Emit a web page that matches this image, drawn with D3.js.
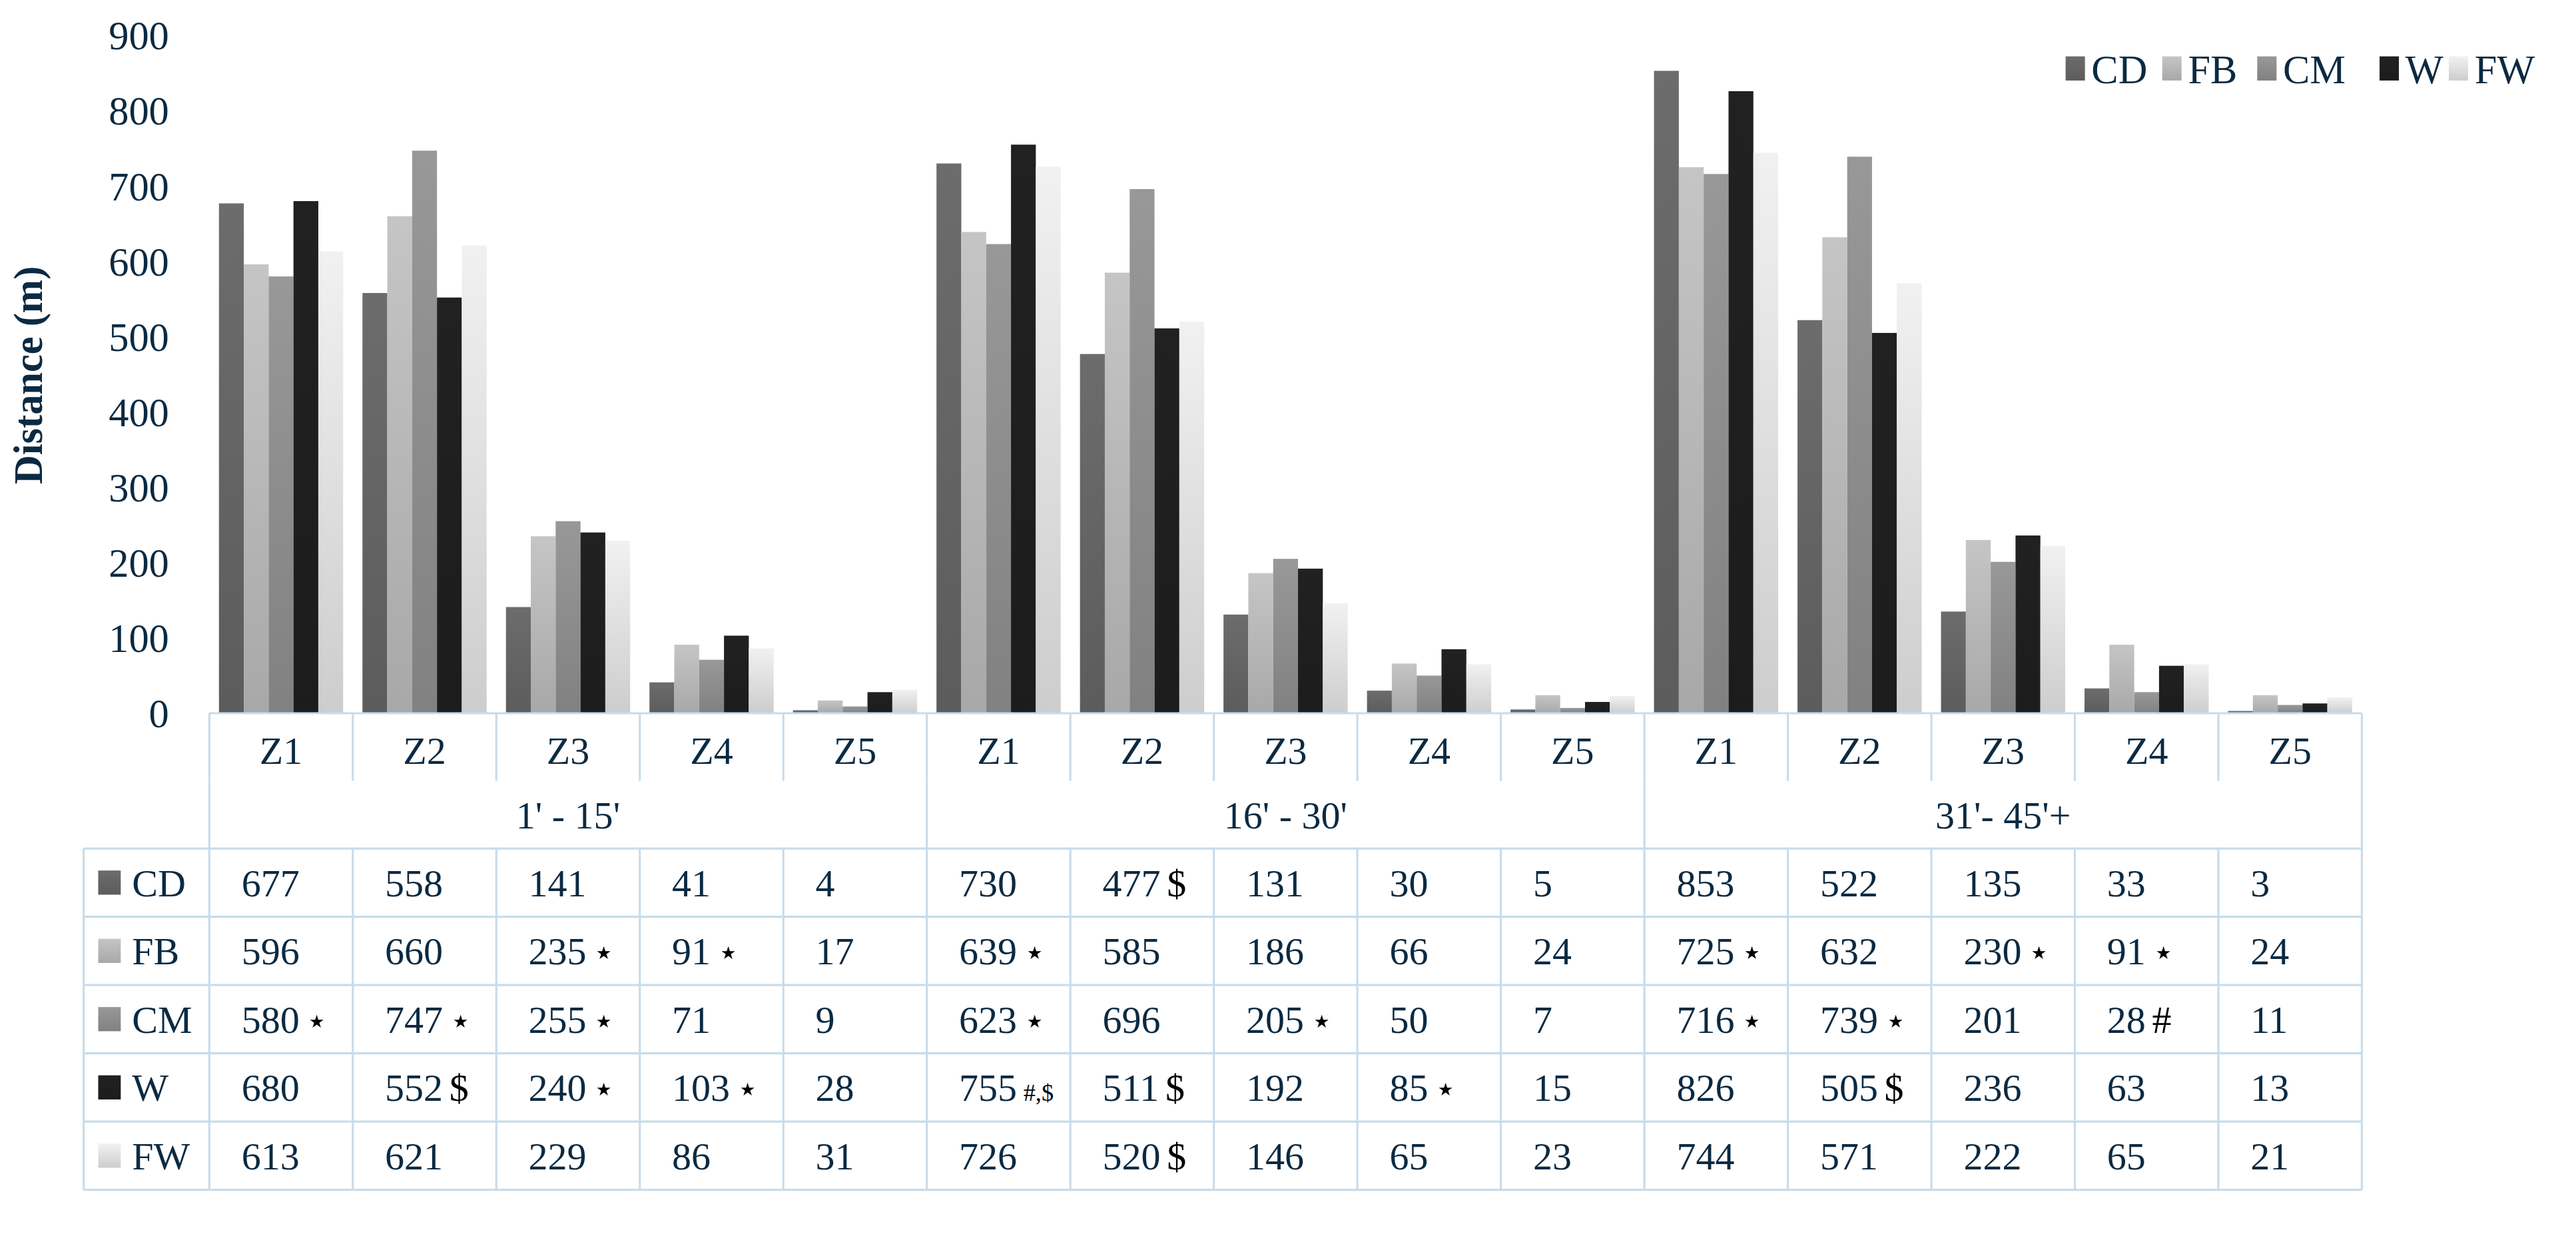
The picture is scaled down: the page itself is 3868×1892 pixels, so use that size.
<!DOCTYPE html>
<html><head><meta charset="utf-8">
<script src="https://cdn.jsdelivr.net/npm/d3@7"></script>
<style>body{margin:0;background:#fff}</style></head>
<body><svg id="c" width="3868" height="1892" viewBox="0 0 1600 782.6"></svg>
<script>
const groups = ["1' - 15'", "16' - 30'", "31'- 45'+"];
const zones = ["Z1","Z2","Z3","Z4","Z5"];
const series = ["CD","FB","CM","W","FW"];
const colors = {CD:"#636363",FB:"#b4b4b4",CM:"#8b8b8b",W:"#1e1e1e",FW:"#dcdcdc"};
const CD = [677,558,141,41,4, 730,477,131,30,5, 853,522,135,33,3];
const FB = [596,660,235,91,17, 639,585,186,66,24, 725,632,230,91,24];
const CM = [580,747,255,71,9, 623,696,205,50,7, 716,739,201,28,11];
const W  = [680,552,240,103,28, 755,511,192,85,15, 826,505,236,63,13];
const FW = [613,621,229,86,31, 726,520,146,65,23, 744,571,222,65,21];
const marksCD = ["","","","","", "","$","","","", "","","","",""];
const marksFB = ["","","⋆","⋆","", "⋆","","","","", "⋆","","⋆","⋆",""];
const marksCM = ["⋆","⋆","⋆","","", "⋆","","⋆","","", "⋆","⋆","","#",""];
const marksW  = ["","$","⋆","⋆","", "#,$","$","","⋆","", "","$","","",""];
const marksFW = ["","","","","", "","$","","","", "","","","",""];
const yTicks = [0,100,200,300,400,500,600,700,800,900];
const vals = {CD,FB,CM,W,FW};
const marks = {CD:marksCD,FB:marksFB,CM:marksCM,W:marksW,FW:marksFW};

const svg = d3.select("#c");
const font = "'Liberation Serif','DejaVu Serif',serif";
const txt = "#0b2a42", grid = "#c8dcea";
const x0 = 130, x1 = 1467, yTop = 22, yBase = 443;
const cols = d3.range(15);
const x = d3.scaleBand().domain(cols).range([x0,x1]);
const xs = d3.scaleBand().domain(series).range([6, x.bandwidth()-6]).paddingInner(0);
const y = d3.scaleLinear().domain([0,900]).range([yBase,yTop]);

const defs = svg.append("defs");
series.forEach(s=>{
  const c = d3.color(colors[s]);
  const g = defs.append("linearGradient").attr("id","g"+s).attr("x1",0).attr("x2",0).attr("y1",0).attr("y2",1);
  g.append("stop").attr("offset","0%").attr("stop-color",c.brighter(0.25));
  g.append("stop").attr("offset","100%").attr("stop-color",c.darker(0.2));
});

// y tick labels
svg.append("g").selectAll("text").data(yTicks).join("text")
  .attr("x",105).attr("y",d=>y(d)).attr("dy","0.35em").attr("text-anchor","end")
  .attr("font-family",font).attr("font-size",25).attr("fill",txt).text(d=>d);
svg.append("text").attr("transform",`translate(26,233) rotate(-90)`).attr("text-anchor","middle")
  .attr("font-family",font).attr("font-size",25).attr("font-weight","bold").attr("fill",txt).text("Distance (m)");

// bars
series.forEach(s=>{
  svg.append("g").selectAll("rect").data(vals[s]).join("rect")
    .attr("x",(d,i)=>x(i)+xs(s)).attr("width",xs.bandwidth())
    .attr("y",d=>y(d)).attr("height",d=>yBase-y(d)).attr("fill",`url(#g${s})`);
});

// legend
const legX = {CD:1283,FB:1343,CM:1402,W:1478,FW:1521};
series.forEach(s=>{
  svg.append("rect").attr("x",legX[s]).attr("y",35).attr("width",12).attr("height",15).attr("fill",`url(#g${s})`);
  svg.append("text").attr("x",legX[s]+16).attr("y",43).attr("dy","0.35em").attr("font-family",font)
    .attr("font-size",25).attr("fill",txt).text(s);
});

// table
const rowH = 42.4, headTop = yBase, grpTop = 485, dataTop = 527;
const tLeft = 52;
const line = (a,b,c,d)=>svg.append("line").attr("x1",a).attr("y1",b).attr("x2",c).attr("y2",d).attr("stroke",grid).attr("stroke-width",1.3);
line(x0,headTop,x1,headTop);
cols.forEach(i=>line(x(i),headTop,x(i),grpTop));
line(x1,headTop,x1,dataTop+5*rowH);
[0,5,10].forEach(i=>line(x(i),grpTop,x(i),dataTop));
for(let r=0;r<=5;r++) line(tLeft,dataTop+r*rowH,x1,dataTop+r*rowH);
line(tLeft,dataTop,tLeft,dataTop+5*rowH);
cols.forEach(i=>line(x(i),dataTop,x(i),dataTop+5*rowH));

svg.append("g").selectAll("text").data(cols).join("text")
  .attr("x",i=>x(i)+x.bandwidth()/2).attr("y",(headTop+grpTop)/2+2).attr("dy","0.35em").attr("text-anchor","middle")
  .attr("font-family",font).attr("font-size",24).attr("fill",txt).text(i=>zones[i%5]);
svg.append("g").selectAll("text").data(groups).join("text")
  .attr("x",(d,i)=>x(i*5)+x.bandwidth()*2.5).attr("y",(grpTop+dataTop)/2).attr("dy","0.35em").attr("text-anchor","middle")
  .attr("font-family",font).attr("font-size",24).attr("fill",txt).text(d=>d);

series.forEach((s,r)=>{
  const cy = dataTop + r*rowH + rowH/2;
  svg.append("rect").attr("x",61).attr("y",cy-7.5).attr("width",14).attr("height",15).attr("fill",`url(#g${s})`);
  svg.append("text").attr("x",82).attr("y",cy).attr("dy","0.35em").attr("font-family",font)
    .attr("font-size",24).attr("fill",txt).text(s);
  const t = svg.append("g").selectAll("text").data(vals[s]).join("text")
    .attr("x",(d,i)=>x(i)+20).attr("y",cy).attr("dy","0.35em")
    .attr("font-family",font).attr("font-size",24).attr("fill",txt);
  t.append("tspan").text(d=>d);
  t.append("tspan").attr("fill","#000")
    .attr("font-size",(d,i)=>marks[s][i]==="#,$"?15:(marks[s][i]==="⋆"?22:24))
    .attr("dx",4).text((d,i)=>marks[s][i]);
});
</script></body></html>
